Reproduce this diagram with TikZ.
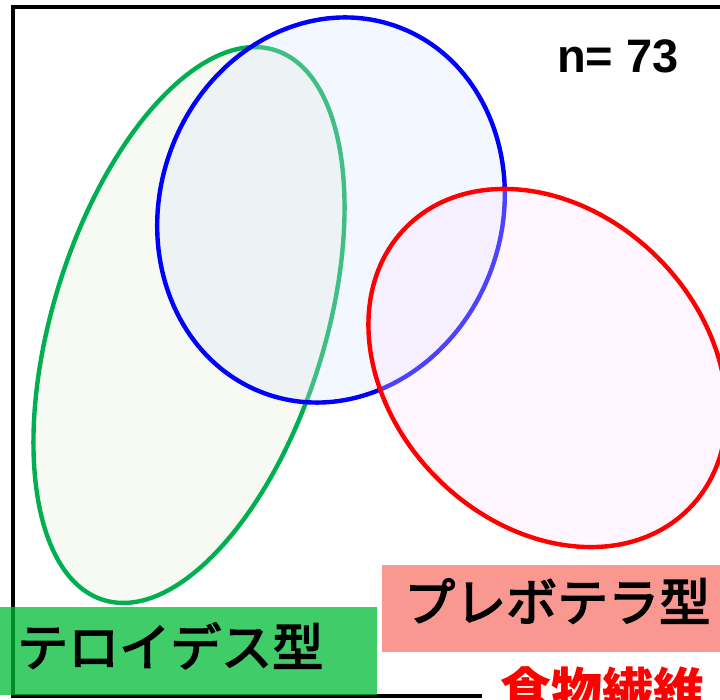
\documentclass[tikz,border=0pt]{standalone}
\usepackage{fontspec}
\setmainfont{Liberation Sans}
\newfontfamily\cjk{Noto Sans CJK JP}[FakeBold=3]
\newfontfamily\cjkplain{Noto Sans CJK JP}
\definecolor{gline}{RGB}{0,176,80}
\definecolor{gfill}{RGB}{247,250,242}
\definecolor{bfill}{RGB}{215,228,255}
\definecolor{rfill}{RGB}{255,222,255}
\definecolor{glabel}{RGB}{0,187,54}
\definecolor{rlabel}{RGB}{248,152,144}
\begin{document}
\begin{tikzpicture}[x=1pt,y=1pt,
  frameline/.style={line width=4pt,black},
  venn/.style={line width=4.4pt},
  jlabel/.style={inner sep=0pt,font=\cjk\fontsize{51}{51}\selectfont}]
\useasboundingbox (0,0) rectangle (720,699);
\clip (0,0) rectangle (720,699);
% frame
\draw[frameline] (482,3) -- (12.5,3) -- (12.5,692) -- (730,692);
% green ellipse
\draw[venn,draw=gline,fill=gfill] (189,374) ellipse[x radius=136,y radius=288,rotate=-17.3];
% blue ellipse
\fill[bfill,fill opacity=0.3] (331,489) ellipse[x radius=171,y radius=195,rotate=-19.3];
\draw[venn,blue] (331,489) ellipse[x radius=171,y radius=195,rotate=-19.3];
% red ellipse
\fill[rfill,fill opacity=0.3] (547.5,331) ellipse[x radius=156,y radius=199.5,rotate=45];
\draw[venn,red] (547.5,331) ellipse[x radius=156,y radius=199.5,rotate=45];
% n
\node[inner sep=0pt,anchor=base west,font=\bfseries\fontsize{47}{47}\selectfont] (n) at (557,626) {n= 73};
% labels
\fill[glabel,fill opacity=0.75] (-2,4) rectangle (377,92);
\node[jlabel,anchor=base west] (bac) at (17,33) {テロイデス型};
\fill[rlabel] (382,47) rectangle (730,134);
\node[jlabel,anchor=base west] (pre) at (404,78) {プレボテラ型};
\node[inner sep=0pt,anchor=base west,text=red,font=\cjkplain\bfseries\fontsize{51}{51}\selectfont] (fib) at (500,-11) {食物繊維};
\end{tikzpicture}
\end{document}
